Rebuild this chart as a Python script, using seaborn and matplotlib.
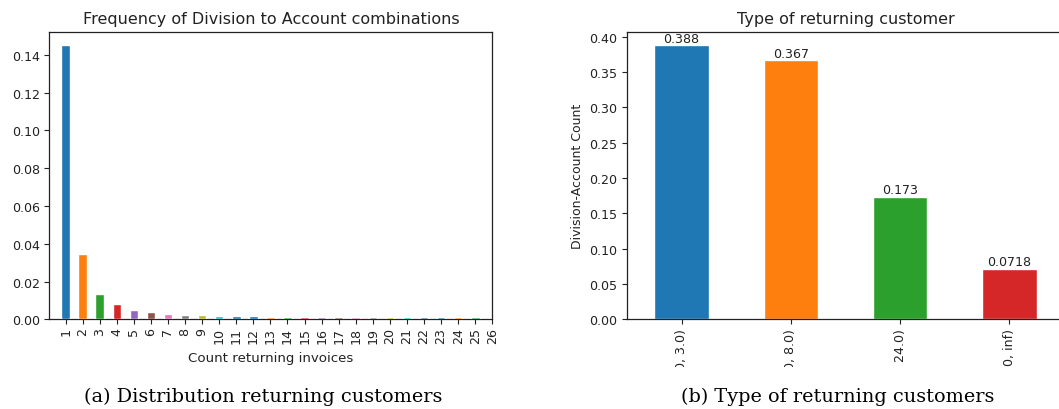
import matplotlib
matplotlib.use("Agg")
import matplotlib.pyplot as plt
import seaborn as sns
import pandas as pd
from matplotlib.patches import Rectangle

# --- data -------------------------------------------------------------
invoice_counts = [str(i) for i in range(1, 27)]
invoice_freq = [0.145, 0.0344, 0.0133, 0.0079, 0.0051, 0.0037, 0.0030, 0.0023,
                0.0022, 0.0017, 0.0016, 0.0016, 0.0011, 0.0011, 0.0011, 0.0011,
                0.0011, 0.0011, 0.0010, 0.0010, 0.0010, 0.0010, 0.0010, 0.0010,
                0.0010, 0.0]

customer_types = ["[1.0, 3.0)", "[3.0, 8.0)", "[8.0, 24.0)", "[24.0, inf)"]
customer_share = [0.388, 0.367, 0.173, 0.0718]

captions = ["(a) Distribution returning customers", "(b) Type of returning customers"]

# --- style --------------------------------------------------------------
sns.set_theme(style="white")
plt.rcParams["font.family"] = ["DejaVu Sans"]
plt.rcParams.update({
    "axes.edgecolor": "#222222",
    "axes.linewidth": 0.9,
    "xtick.bottom": True,
    "ytick.left": True,
    "xtick.color": "#222222",
    "ytick.color": "#222222",
    "xtick.major.size": 3.5,
    "ytick.major.size": 3.5,
    "xtick.major.width": 0.8,
    "ytick.major.width": 0.8,
    "text.color": "#222222",
    "axes.labelcolor": "#222222",
})

tab10 = sns.color_palette("tab10", 10)
# bar colours cycle through an 11-entry list (tab10 plus its first colour again)
cycle11 = tab10 + [tab10[0]]
left_colors = [cycle11[i % 11] for i in range(len(invoice_counts))]
right_colors = tab10[:len(customer_types)]

fig = plt.figure(figsize=(10.59, 4.10), dpi=100)
ax1 = fig.add_axes([0.0466, 0.2188, 0.4183, 0.7015])
ax2 = fig.add_axes([0.5920, 0.2188, 0.4127, 0.7015])

TICK_FS = 9.1
LABEL_FS = 9.3
TITLE_FS = 11.5

# left: frequency per number of returning invoices
df1 = pd.DataFrame({"count": invoice_counts, "freq": invoice_freq})
sns.barplot(data=df1, x="count", y="freq", hue="count", order=invoice_counts,
            hue_order=invoice_counts, palette=left_colors, width=0.5,
            legend=False, ax=ax1, saturation=1)
# keep the tiny bars visible on top of the bottom spine
for sp in ax1.spines.values():
    sp.set_zorder(0.5)
ax1.set_xlim(-0.95, 25.0)
ax1.set_ylim(0, max(invoice_freq) * 1.05)
ax1.set_yticks([0, 0.02, 0.04, 0.06, 0.08, 0.10, 0.12, 0.14])
ax1.set_yticklabels([f"{v:.2f}" for v in ax1.get_yticks()], fontsize=TICK_FS)
ax1.tick_params(axis="x", labelrotation=90, labelsize=TICK_FS, pad=2)
ax1.set_xlabel("Count returning invoices", fontsize=LABEL_FS + 0.3, labelpad=6)
ax1.set_ylabel("")
ax1.set_title("Frequency of Division to Account combinations", fontsize=TITLE_FS)

# right: share of each type of returning customer
df2 = pd.DataFrame({"type": customer_types, "share": customer_share})
sns.barplot(data=df2, x="type", y="share", hue="type", order=customer_types,
            hue_order=customer_types, palette=right_colors, width=0.5,
            legend=False, ax=ax2, saturation=1)
ax2.set_xlim(-0.5, 3.5)
ax2.set_ylim(0, max(customer_share) * 1.05)
ax2.set_yticks([0, 0.05, 0.10, 0.15, 0.20, 0.25, 0.30, 0.35, 0.40])
ax2.set_yticklabels([f"{v:.2f}" for v in ax2.get_yticks()], fontsize=TICK_FS)
ax2.tick_params(axis="x", labelrotation=90, labelsize=TICK_FS, pad=3)
for cont in ax2.containers:
    ax2.bar_label(cont, fmt="{:.3g}", fontsize=TICK_FS, padding=0.5)
ax2.set_xlabel("")
ax2.set_ylabel("Division-Account Count", fontsize=LABEL_FS - 0.3)
ax2.set_title("Type of returning customer", fontsize=TITLE_FS)

# caption strip below the panels
fig.add_artist(Rectangle((0.5, 0.0), 0.5, 0.1024, transform=fig.transFigure,
                         facecolor="white", edgecolor="none", zorder=10))
cap_kw = dict(fontsize=13.9, family="DejaVu Serif", color="black",
              ha="center", va="center", zorder=11)
fig.text(263 / 1059, 1 - 397 / 410, captions[0], **cap_kw)
fig.text(838 / 1059, 1 - 397 / 410, captions[1], **cap_kw)

fig.savefig("out.png", dpi=100, facecolor="white")
